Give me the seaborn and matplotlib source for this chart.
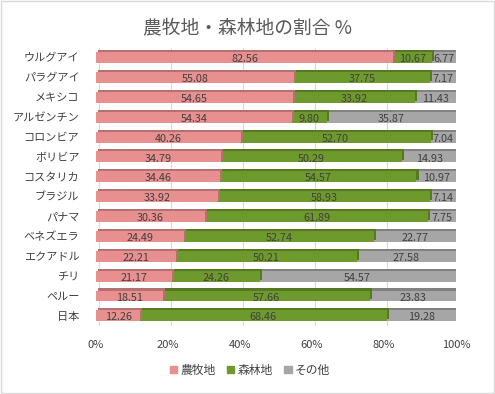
import matplotlib
matplotlib.use("Agg")
import matplotlib.pyplot as plt
import matplotlib.patheffects as pe
from matplotlib.patches import Rectangle, Patch
import seaborn as sns
import pandas as pd
import numpy as np

countries = ["ウルグアイ", "パラグアイ", "メキシコ", "アルゼンチン", "コロンビア", "ボリビア",
             "コスタリカ", "ブラジル", "パナマ", "ベネズエラ", "エクアドル", "チリ", "ペルー", "日本"]
agri = [82.56, 55.08, 54.65, 54.34, 40.26, 34.79, 34.46, 33.92, 30.36, 24.49, 22.21, 21.17, 18.51, 12.26]
forest = [10.67, 37.75, 33.92, 9.80, 52.70, 50.29, 54.57, 58.93, 61.89, 52.74, 50.21, 24.26, 57.66, 68.46]
other = [6.77, 7.17, 11.43, 35.87, 7.04, 14.93, 10.97, 7.14, 7.75, 22.77, 27.58, 54.57, 23.83, 19.28]
series_names = ["農牧地", "森林地", "その他"]
xticks = [0, 20, 40, 60, 80, 100]

sns.set_theme(style="white")
plt.rcParams['font.family'] = ['Noto Sans CJK JP', 'DejaVu Sans']

c_agri = "#E8908F"
c_forest = "#6E9A2D"
c_other = "#A6A6A6"
txt = "#404040"

df = pd.DataFrame({"country": countries, "agri": agri, "forest": forest, "other": other})
df["c2"] = df["agri"] + df["forest"]
df["c3"] = df["c2"] + df["other"]

fig = plt.figure(figsize=(4.95, 3.94), dpi=100)
ax = fig.add_axes([0.194, 0.173, 0.727, 0.706])

for col, color in [("c3", c_other), ("c2", c_forest), ("agri", c_agri)]:
    sns.barplot(data=df, x=col, y="country", color=color, width=0.55,
                orient="h", ax=ax, saturation=1, linewidth=0, zorder=3)

for p in ax.patches:
    fc = p.get_facecolor()
    dark = tuple(np.array(fc[:3]) * 0.78)
    p.set_path_effects([pe.SimplePatchShadow(offset=(1.5, 1.5), shadow_rgbFace=dark, alpha=1.0),
                        pe.Normal()])

# data labels
for i in range(len(countries)):
    segs = [(0, agri[i]), (agri[i], forest[i]), (agri[i] + forest[i], other[i])]
    for left, w in segs:
        ax.text(left + w / 2, i + 0.08, f"{w:.2f}", ha="center", va="center",
                fontsize=7.8, color=txt, zorder=5)

ax.set_xlim(0, 100)
ax.set_ylim(13.5, -0.5)
ax.set_xticks(xticks)
ax.set_xticklabels([f"{t}%" for t in xticks], fontsize=8, color=txt)
ax.tick_params(axis="x", length=0, pad=10)
ax.tick_params(axis="y", length=0, pad=12, labelsize=8, labelcolor=txt)
ax.set_xlabel("")
ax.set_ylabel("")
for t in xticks:
    ax.axvline(t + 0.9, color="#D9D9D9", lw=0.8, zorder=0)
for s in ax.spines.values():
    s.set_visible(False)

fig.text(0.5, 0.93, "農牧地・森林地の割合 %", ha="center", va="center",
         fontsize=13.5, color="#595959")

handles = [Patch(color=c, label=n) for c, n in zip([c_agri, c_forest, c_other], series_names)]
fig.legend(handles=handles, loc="center", bbox_to_anchor=(0.505, 0.06), ncol=3,
           frameon=False, fontsize=8.5, handlelength=0.6, handleheight=0.6,
           handletextpad=0.25, columnspacing=1.0, labelcolor=txt)

fig.patches.append(Rectangle((0.002, 0.002), 0.996, 0.996, transform=fig.transFigure,
                             fill=False, edgecolor="#D9D9D9", lw=1))

fig.savefig("out.png", dpi=100)
